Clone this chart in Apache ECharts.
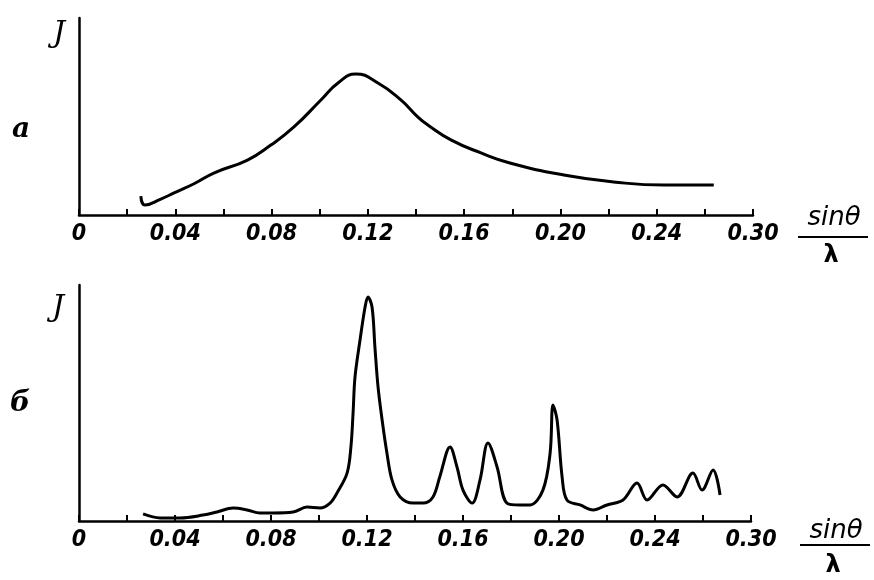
<!DOCTYPE html>
<html>
<head>
<meta charset="utf-8">
<script src="https://cdn.jsdelivr.net/npm/echarts@6/dist/echarts.min.js"></script>
<style>
html,body{margin:0;padding:0;background:#fff;}
#chart{width:874px;height:580px;}
</style>
</head>
<body>
<div id="chart"></div>
<script>
// x tick labels (the last one is printed as 0.30 in the original figure)
var tickLabels = {0: '0', 4: '0.04', 8: '0.08', 12: '0.12', 16: '0.16', 20: '0.20', 24: '0.24', 28: '0.30'};

// curve a
var xA = [0.0257, 0.0274, 0.0340, 0.0395, 0.0480, 0.0560, 0.0700, 0.0797, 0.0893, 0.1005, 0.1076, 0.1150,
          0.1242, 0.1337, 0.1408, 0.1449, 0.1545, 0.1670, 0.1790, 0.2014, 0.2220, 0.2430, 0.2637];
var yA = [9.6, 5.1, 8.1, 11.2, 16.0, 21.3, 27.9, 35.5, 44.7, 58.4, 67.0, 71.6,
          67.0, 58.4, 49.7, 45.7, 38.1, 31.5, 26.4, 20.3, 16.8, 15.2, 15.2];

// curve б
var xB = [0.0267, 0.0338, 0.0421, 0.0517, 0.0575, 0.0642, 0.0700, 0.0754, 0.0808, 0.0892, 0.0950, 0.1004,
          0.1046, 0.1075, 0.1117, 0.1133, 0.1142, 0.1150, 0.1171, 0.1192, 0.1204, 0.1221, 0.1233, 0.1246,
          0.1263, 0.1283, 0.1304, 0.1338, 0.1392, 0.1433, 0.1475, 0.1504, 0.1546, 0.1575, 0.1600, 0.1638,
          0.1671, 0.1704, 0.1742, 0.1783, 0.1838, 0.1879, 0.1933, 0.1963, 0.1975, 0.1992, 0.2013, 0.2033,
          0.2088, 0.2142, 0.2200, 0.2267, 0.2325, 0.2367, 0.2433, 0.2492, 0.2558, 0.2596, 0.2642, 0.2671];
var yB = [3.0, 1.3, 1.3, 2.5, 3.8, 5.5, 4.7, 3.4, 3.4, 3.8, 5.9, 5.5,
          7.6, 11.9, 20.3, 31.4, 45.8, 61.0, 76.7, 90.7, 94.9, 90.7, 73.7, 56.8,
          42.8, 28.8, 17.4, 10.2, 7.6, 7.6, 10.2, 19.0, 31.4, 22.9, 13.1, 7.6,
          17.4, 33.1, 22.9, 7.6, 6.8, 6.8, 13.1, 28.8, 49.2, 42.8, 18.6, 8.9,
          6.8, 4.7, 6.8, 8.9, 16.1, 8.9, 15.3, 10.2, 20.3, 13.1, 21.6, 11.0];

function zip(xs, ys) {
    var out = [];
    for (var i = 0; i < xs.length; i++) out.push([xs[i], ys[i]]);
    return out;
}

var labelFont = {
    color: '#000',
    fontSize: 23,
    fontWeight: 'bold',
    fontStyle: 'italic',
    fontFamily: 'DejaVu Sans Condensed, Liberation Sans Narrow, sans-serif'
};

function makeX(idx) {
    return {
        type: 'value',
        gridIndex: idx,
        min: 0,
        max: 0.28,
        interval: 0.02,
        splitLine: {show: false},
        axisLine: {lineStyle: {color: '#000', width: 2.5}},
        axisTick: {inside: true, length: 6, lineStyle: {color: '#000', width: 2}},
        axisLabel: Object.assign({
            margin: 8,
            showMinLabel: true,
            showMaxLabel: true,
            formatter: function (v) {
                var k = Math.round(v * 100);
                return tickLabels[k] !== undefined ? tickLabels[k] : '';
            }
        }, labelFont)
    };
}

function makeY(idx) {
    return {
        type: 'value',
        gridIndex: idx,
        min: 0,
        max: 100,
        splitLine: {show: false},
        axisLine: {show: true, lineStyle: {color: '#000', width: 2.5}},
        axisTick: {show: false},
        axisLabel: {show: false}
    };
}

function fraction(cx, topY, lineY, lamY) {
    return {
        type: 'group',
        children: [
            {type: 'text', x: cx, y: topY, style: {text: 'sinθ', fill: '#000', font: 'italic 26px DejaVu Sans', align: 'center', verticalAlign: 'middle'}},
            {type: 'line', shape: {x1: cx - 36, y1: lineY, x2: cx + 34, y2: lineY}, style: {stroke: '#000', lineWidth: 2}},
            {type: 'text', x: cx - 3, y: lamY, style: {text: 'λ', fill: '#000', font: 'bold 24px DejaVu Sans', align: 'center', verticalAlign: 'middle'}}
        ]
    };
}

var chart = echarts.init(document.getElementById('chart'));
var option = {
    backgroundColor: '#fff',
    animation: false,
    grid: [
        {left: 79, top: 18, width: 674, height: 197},
        {left: 79, top: 285, width: 672, height: 236}
    ],
    xAxis: [makeX(0), makeX(1)],
    yAxis: [makeY(0), makeY(1)],
    series: [
        {
            type: 'line', xAxisIndex: 0, yAxisIndex: 0,
            data: zip(xA, yA), smooth: 0.5, showSymbol: false,
            lineStyle: {color: '#000', width: 3}
        },
        {
            type: 'line', xAxisIndex: 1, yAxisIndex: 1,
            data: zip(xB, yB), smooth: 0.35, showSymbol: false,
            lineStyle: {color: '#000', width: 3}
        }
    ],
    graphic: [
        {type: 'text', x: 59, y: 34, style: {text: 'J', fill: '#000', font: 'italic 30px DejaVu Serif', align: 'center', verticalAlign: 'middle'}},
        {type: 'text', x: 21, y: 130, style: {text: 'a', fill: '#000', font: 'bold italic 28px DejaVu Serif', align: 'center', verticalAlign: 'middle'}},
        {type: 'text', x: 58, y: 308, style: {text: 'J', fill: '#000', font: 'italic 30px DejaVu Serif', align: 'center', verticalAlign: 'middle'}},
        {type: 'text', x: 20, y: 404, style: {text: 'б', fill: '#000', font: 'bold italic 28px DejaVu Serif', align: 'center', verticalAlign: 'middle'}},
        fraction(834, 218, 237, 256),
        fraction(836, 531, 545, 566)
    ]
};
chart.setOption(option);
</script>
</body>
</html>
